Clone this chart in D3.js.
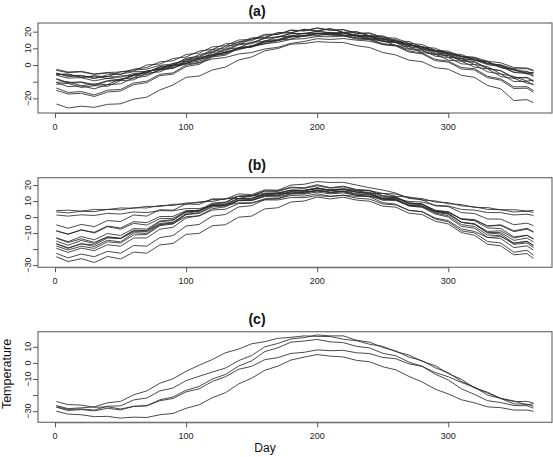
<!DOCTYPE html>
<html>
<head>
<meta charset="utf-8">
<script src="https://cdn.jsdelivr.net/npm/d3@7"></script>
<style>
  html, body { margin: 0; padding: 0; background: #fff; }
  svg { display: block; font-family: "Liberation Sans", Arial, Helvetica, sans-serif; }
</style>
</head>
<body>
<svg id="chart" width="553" height="457"></svg>
<script>
// ---------------- data ----------------
const days = [1,10,20,30,40,50,60,70,80,90,100,110,120,130,140,150,160,170,180,190,200,210,220,230,240,250,260,270,280,290,300,310,320,330,340,350,360,365];
const xTicks = [0, 100, 200, 300];
const panelTitles = ["(a)", "(b)", "(c)"];
const xLabel = "Day";
const yLabel = "Temperature";

// panel (a)
const stJohns = [-3.2,-4.6,-4.1,-5.6,-4.8,-5.5,-4.0,-3.9,-2.0,-1.6,0.6,1.5,3.6,4.5,6.6,7.5,9.6,10.6,13.0,14.1,15.8,15.3,15.9,14.9,14.3,12.4,11.7,9.4,8.4,6.2,5.7,3.6,3.0,0.8,0.1,-2.3,-2.2,-3.5];
const halifax = [-5.1,-6.4,-6.2,-7.8,-6.9,-7.4,-5.1,-4.6,-1.8,-0.7,2.0,3.2,6.1,7.6,10.2,11.4,13.7,14.7,16.8,17.4,18.8,18.7,19.1,17.9,17.4,15.5,14.5,12.2,11.1,8.5,7.4,4.8,3.9,1.1,-0.1,-3.2,-3.8,-5.4];
const sydney = [-5.6,-5.5,-7.3,-6.6,-8.2,-6.5,-6.3,-3.6,-2.8,0.1,1.0,3.7,5.0,7.9,9.1,11.6,12.6,14.8,15.6,17.4,17.6,18.6,17.9,17.8,16.2,15.6,13.4,12.5,9.9,8.9,6.3,5.4,2.8,1.9,-1.2,-2.4,-4.9,-4.4];
const yarmouth = [-2.6,-4.2,-3.8,-5.4,-4.5,-4.2,-2.9,-2.5,-0.2,0.6,3.1,3.9,6.5,7.5,9.8,10.8,12.8,13.6,15.4,15.8,17.1,16.9,17.3,16.3,15.9,14.2,13.5,11.6,10.6,8.5,7.6,5.3,4.6,2.3,1.3,-1.5,-1.8,-3.2];
const charlottetown = [-6.1,-7.9,-7.6,-9.5,-8.0,-8.9,-6.5,-5.8,-3.0,-1.9,1.2,2.3,5.6,6.9,9.9,11.0,13.7,14.6,16.9,17.4,18.9,18.8,19.5,18.0,17.5,15.4,14.5,12.0,10.9,8.1,6.9,4.0,3.1,0.2,-1.0,-4.5,-5.1,-6.8];
const fredericton = [-8.2,-10.5,-10.1,-11.8,-9.4,-8.9,-5.7,-4.6,-1.2,-0.3,3.5,4.6,8.4,9.3,12.6,13.4,16.2,16.9,19.0,18.9,20.2,19.4,19.3,17.5,17.1,14.6,13.8,10.9,9.9,6.6,5.6,2.4,1.6,-2.2,-3.5,-7.6,-7.4,-9.5];
const schefferville = [-23.4,-25.8,-24.7,-25.4,-23.6,-23.3,-20.5,-19.3,-15.0,-12.0,-7.4,-6.6,-3.0,-1.2,3.0,4.8,8.5,9.9,12.5,12.9,14.0,13.6,13.5,11.6,10.5,7.5,6.0,2.9,2.0,-1.6,-2.5,-6.2,-7.4,-12.3,-14.3,-21.3,-20.8,-22.6];
const arvida = [-13.8,-16.5,-15.9,-18.0,-15.1,-14.7,-10.8,-9.7,-5.6,-4.7,-0.1,1.2,5.5,6.6,10.5,11.4,14.7,15.3,17.9,17.8,19.3,18.3,18.1,16.2,15.7,12.8,11.9,8.4,7.2,3.4,2.3,-1.5,-2.2,-6.8,-8.3,-13.1,-13.0,-15.3];
const bagotville = [-15.2,-17.4,-17.0,-18.9,-16.2,-15.6,-11.8,-10.6,-6.4,-5.5,-0.9,0.4,4.8,5.9,9.9,10.8,14.2,14.8,17.4,17.2,18.8,17.8,17.7,15.5,15.2,12.2,11.4,7.8,6.7,2.6,1.7,-2.4,-3.0,-7.6,-9.1,-14.1,-13.9,-16.3];
const quebec = [-10.5,-13.0,-12.5,-14.3,-11.8,-11.3,-7.7,-6.7,-2.8,-2.0,2.2,3.3,7.5,8.4,12.1,12.8,16.0,16.5,19.0,18.7,20.2,19.2,19.2,17.0,16.9,14.0,13.4,9.9,9.1,5.3,4.5,0.7,0.2,-4.1,-5.4,-9.9,-9.8,-12.0];
const sherbrooke = [-11.6,-11.0,-13.5,-12.4,-12.8,-9.4,-8.9,-4.9,-4.1,-0.5,0.8,4.6,5.8,9.5,10.3,13.6,14.1,17.1,17.2,19.1,18.5,19.6,17.5,17.7,15.2,14.9,11.6,11.1,7.4,6.6,2.9,2.3,-1.3,-2.3,-6.9,-8.0,-10.9,-11.5];
const montreal = [-8.5,-10.9,-10.5,-12.3,-9.8,-9.2,-5.9,-4.6,-0.9,-0.1,4.1,5.3,9.3,10.2,14.0,14.6,17.9,18.3,20.8,20.6,22.2,20.9,21.1,18.9,18.8,15.9,15.3,11.9,11.0,7.2,6.5,2.8,2.1,-2.0,-3.4,-7.8,-7.7,-10.0];
const ottawa = [-10.4,-10.0,-12.5,-11.3,-11.8,-8.3,-7.8,-3.6,-2.7,1.0,2.3,6.3,7.6,11.3,12.4,15.7,16.3,19.3,19.4,21.5,20.6,21.9,19.6,19.9,17.3,17.0,13.6,13.0,9.3,8.3,4.6,3.9,0.3,-1.0,-5.4,-6.8,-9.7,-9.1];
const toronto = [-4.8,-7.0,-6.5,-8.2,-5.9,-5.6,-2.5,-1.5,1.9,2.5,6.3,7.2,10.9,11.5,15.0,15.3,18.4,18.5,21.0,20.4,22.2,20.8,21.3,19.1,19.3,16.5,16.1,13.0,12.3,8.9,8.3,5.0,4.5,0.8,-0.4,-4.3,-4.2,-6.2];
const london = [-5.9,-5.4,-7.6,-6.5,-7.1,-4.0,-3.7,0.0,0.6,3.9,4.8,8.4,9.3,12.7,13.3,16.3,16.6,19.4,19.2,21.3,20.3,21.7,19.5,20.0,17.5,17.5,14.4,14.1,10.7,10.1,6.8,6.3,3.1,2.2,-1.7,-2.7,-5.4,-4.5];

// panel (b)
const vancouver = [3.2,2.6,3.6,3.4,4.8,4.5,5.8,5.7,7.2,7.2,8.8,9.0,10.9,11.3,13.0,13.3,15.0,15.2,16.7,16.6,17.6,17.1,17.7,16.8,16.5,14.8,14.4,12.2,11.6,9.4,9.0,7.0,6.4,4.8,4.6,3.2,3.6,3.0];
const victoria = [4.0,4.3,3.7,4.8,4.7,5.7,5.5,6.7,6.6,8.0,8.0,9.5,9.8,11.5,11.6,13.3,13.4,15.0,14.8,16.1,15.7,16.7,15.9,16.5,14.9,14.7,13.0,12.5,10.6,10.1,8.3,7.8,6.0,5.9,4.5,4.6,3.8,4.2];
const prRupert = [1.3,0.6,1.4,1.0,2.3,1.9,3.2,2.8,4.0,3.9,5.3,5.3,7.0,7.2,8.9,9.0,10.7,10.7,12.2,12.1,13.4,12.8,13.7,12.9,13.0,11.5,11.6,9.7,9.4,7.4,6.9,4.8,4.3,2.8,2.8,1.3,1.8,1.0];
const kamloops = [-4.9,-7.0,-4.6,-6.0,-2.2,-2.8,1.3,0.6,4.6,4.3,8.2,7.9,11.4,11.2,14.5,14.0,17.0,16.8,20.0,20.5,22.2,21.6,21.7,20.0,18.3,16.9,15.0,11.6,10.9,7.0,6.5,2.8,2.2,-1.2,-1.3,-4.8,-3.8,-5.4];
const prGeorge = [-8.8,-10.6,-8.2,-9.5,-5.6,-6.8,-2.9,-3.5,0.3,0.4,4.0,4.1,7.3,7.4,10.4,10.3,12.8,12.5,14.7,14.3,15.7,14.5,15.1,13.6,13.2,10.5,10.4,7.2,6.8,3.6,2.9,-1.2,-1.8,-5.6,-5.3,-9.1,-7.6,-9.4];
const calgary = [-8.5,-10.8,-7.9,-10.0,-6.0,-7.6,-3.9,-5.0,-1.0,-0.8,3.6,3.8,7.5,7.4,10.7,10.6,13.3,13.1,15.6,15.4,17.0,15.7,16.4,14.6,14.3,11.4,11.4,8.0,8.0,4.0,3.4,-1.1,-1.6,-5.6,-4.8,-8.6,-7.0,-9.2];
const edmonton = [-13.0,-15.4,-12.2,-14.2,-10.3,-11.5,-7.2,-7.5,-2.5,-1.6,3.1,3.9,7.9,8.3,11.6,11.5,14.1,13.9,15.8,15.4,16.6,15.2,15.9,14.2,13.9,10.9,10.8,7.3,7.0,3.0,1.8,-3.3,-4.2,-9.0,-8.6,-13.1,-11.4,-13.6];
const regina = [-15.0,-17.6,-14.6,-16.5,-12.3,-13.2,-8.2,-8.4,-2.9,-2.2,3.5,4.4,8.7,9.4,13.0,13.1,16.2,16.0,18.3,17.9,19.6,18.0,18.9,16.9,16.5,13.0,12.3,8.5,8.0,3.6,2.2,-3.2,-4.5,-9.6,-9.7,-14.6,-13.1,-15.6];
const winnipeg = [-16.8,-19.6,-16.6,-18.4,-14.5,-15.5,-9.9,-10.2,-4.8,-3.5,2.3,3.7,8.0,9.1,13.0,13.3,16.3,16.5,18.7,18.3,20.2,18.4,19.3,17.2,16.7,13.4,12.7,8.8,8.1,3.8,2.2,-3.3,-4.4,-10.0,-10.6,-16.4,-15.1,-17.8];
const thunderBay = [-13.2,-15.9,-13.6,-15.8,-12.5,-13.5,-8.6,-8.6,-4.0,-3.3,1.6,2.3,6.3,7.0,10.2,10.4,13.3,13.6,16.1,16.3,18.1,16.6,17.5,15.8,15.5,12.4,12.2,8.8,8.2,4.3,3.1,-1.4,-2.3,-6.8,-7.2,-12.4,-11.4,-13.8];
const thePas = [-19.5,-22.1,-19.4,-21.0,-17.3,-18.2,-13.1,-13.0,-7.6,-6.4,-0.6,0.9,5.2,6.4,10.5,11.1,14.5,14.8,16.9,16.7,18.3,16.7,17.4,15.6,14.8,11.5,10.6,6.9,6.1,1.9,0.0,-5.8,-7.0,-12.7,-13.4,-19.1,-18.0,-20.7];
const prAlbert = [-18.1,-20.6,-18.2,-19.6,-15.5,-16.2,-11.2,-10.9,-5.4,-4.3,1.6,2.8,7.0,8.0,11.6,11.8,14.7,14.6,16.8,16.6,18.2,16.6,17.3,15.5,14.8,11.6,10.9,7.2,6.5,2.5,0.8,-4.7,-5.9,-11.2,-11.7,-17.1,-16.2,-19.1];
const uraniumCity = [-22.7,-25.5,-23.1,-24.8,-21.4,-22.6,-17.8,-18.2,-12.8,-11.6,-5.6,-4.6,0.6,1.6,6.3,7.1,11.0,11.5,14.4,14.7,16.7,15.2,15.9,13.6,12.6,9.0,8.0,4.1,3.3,-1.2,-3.0,-8.6,-9.9,-15.3,-16.2,-22.0,-20.8,-23.8];
const churchill = [-24.8,-27.8,-26.0,-28.4,-24.6,-26.2,-21.9,-22.6,-17.4,-16.5,-10.8,-10.2,-5.4,-4.8,-0.1,0.6,5.1,5.8,9.4,10.0,12.5,11.3,12.4,10.6,9.9,6.8,6.2,2.4,1.6,-2.6,-4.3,-9.7,-11.4,-17.0,-18.0,-23.6,-22.8,-25.9];
const whitehorse = [-16.6,-19.2,-16.8,-17.4,-13.1,-13.4,-9.2,-9.1,-4.6,-4.1,0.2,0.7,4.4,4.9,8.4,8.6,11.5,11.5,13.5,13.1,14.5,13.0,13.6,11.8,11.2,8.2,7.6,4.2,3.4,-0.6,-2.2,-7.4,-9.0,-12.8,-12.2,-16.2,-15.3,-17.9];

// panel (c)
const dawson = [-26.5,-28.4,-27.9,-27.3,-24.8,-23.9,-19.8,-17.4,-12.6,-9.9,-5.2,-1.4,2.1,6.3,8.6,11.9,13.2,15.3,15.9,16.8,16.5,16.4,14.7,13.8,11.6,10.3,7.0,4.9,1.0,-1.7,-6.6,-10.2,-15.6,-18.2,-22.1,-23.6,-26.1,-25.4];
const yellowknife = [-27.2,-28.9,-28.6,-29.3,-26.9,-26.7,-23.0,-21.8,-17.4,-15.6,-11.0,-8.3,-5.7,-3.2,1.4,4.6,10.0,12.1,14.9,15.7,17.4,16.8,16.8,14.1,12.9,9.6,7.4,3.6,1.4,-3.0,-6.1,-11.5,-15.1,-20.0,-22.1,-25.5,-25.6,-26.9];
const inuvik = [-27.5,-29.6,-29.0,-29.8,-28.2,-29.2,-27.0,-26.6,-22.9,-21.2,-17.0,-14.6,-10.0,-7.2,-2.0,1.3,7.0,9.4,12.9,13.6,14.6,13.1,12.6,10.3,9.3,6.0,4.4,0.5,-2.1,-7.0,-10.6,-16.1,-19.6,-23.5,-24.6,-26.5,-26.6,-28.1];
const iqaluit = [-24.0,-25.9,-26.2,-27.6,-27.3,-28.6,-27.0,-26.6,-23.5,-22.1,-18.0,-16.1,-11.5,-8.6,-4.0,-2.1,2.0,3.3,5.9,6.6,8.1,7.6,7.8,6.3,5.8,3.4,2.6,-0.6,-2.1,-6.0,-8.6,-12.1,-15.2,-18.7,-22.0,-24.1,-23.9,-25.0];
const resolute = [-30.0,-31.8,-32.2,-33.4,-33.2,-34.3,-33.7,-33.9,-32.2,-31.4,-28.2,-26.0,-21.6,-18.5,-13.1,-9.5,-4.6,-2.0,1.8,3.6,5.2,4.2,3.7,1.6,0.7,-2.4,-4.3,-8.4,-11.8,-16.3,-19.3,-22.9,-24.8,-27.3,-27.8,-29.3,-29.3,-30.1];

const seriesA = [stJohns, halifax, sydney, yarmouth, charlottetown, fredericton, schefferville, arvida, bagotville, quebec, sherbrooke, montreal, ottawa, toronto, london];
const seriesB = [vancouver, victoria, prRupert, kamloops, prGeorge, calgary, edmonton, regina, winnipeg, thunderBay, thePas, prAlbert, uraniumCity, churchill, whitehorse];
const seriesC = [dawson, yellowknife, inuvik, iqaluit, resolute];

const yTicksA = [-20, -10, 0, 10, 20];
const yTickLabelsA = [-20, 0, 10, 20];
const yTicksB = [-30, -20, -10, 0, 10, 20];
const yTickLabelsB = [-30, -10, 0, 10, 20];
const yTicksC = [-30, -20, -10, 0, 10];
const yTickLabelsC = [-30, -10, 0, 10];

// ---------------- layout ----------------
const svg = d3.select("#chart");
const left = 38, right = 552;
const x = d3.scaleLinear().domain([0, 300]).range([55, 448.3]);

const panels = [
  { title: panelTitles[0], series: seriesA, yDomain: [-28.8, 25.2], top: 23, bottom: 113, ticks: yTicksA, labels: yTickLabelsA },
  { title: panelTitles[1], series: seriesB, yDomain: [-31.4, 24.6], top: 177.7, bottom: 267.3, ticks: yTicksB, labels: yTickLabelsB },
  { title: panelTitles[2], series: seriesC, yDomain: [-36.9, 19.4], top: 331.7, bottom: 422.3, ticks: yTicksC, labels: yTickLabelsC }
];

const minus = v => (v < 0 ? "\u2212" + Math.abs(v) : String(v));

panels.forEach(p => {
  const y = d3.scaleLinear().domain(p.yDomain).range([p.bottom, p.top]);
  const g = svg.append("g");

  // curves
  const line = d3.line().x((v, i) => x(days[i])).y(v => y(v));
  g.selectAll("path.curve").data(p.series).join("path")
    .attr("class", "curve")
    .attr("d", line)
    .attr("fill", "none")
    .attr("stroke", "#2b2b2b")
    .attr("stroke-width", 0.85)
    .attr("stroke-linejoin", "round");

  // box
  g.append("rect")
    .attr("x", left).attr("y", p.top)
    .attr("width", right - left).attr("height", p.bottom - p.top)
    .attr("fill", "none").attr("stroke", "#707070").attr("stroke-width", 1.2);

  // x axis
  const xa = g.append("g").attr("transform", `translate(0,${p.bottom})`)
    .call(d3.axisBottom(x).tickValues(xTicks).tickSize(5).tickSizeOuter(0).tickFormat(""));
  xa.select(".domain").attr("stroke", "#707070");
  xa.selectAll(".tick line").attr("stroke", "#555");
  g.selectAll("text.xl").data(xTicks).join("text")
    .attr("class", "xl")
    .attr("x", d => x(d)).attr("y", p.bottom + 17)
    .attr("text-anchor", "middle")
    .attr("font-size", 9).attr("fill", "#222")
    .text(d => d);

  // y axis
  const ya = g.append("g").attr("transform", `translate(${left},0)`)
    .call(d3.axisLeft(y).tickValues(p.ticks).tickSize(5).tickSizeOuter(0).tickFormat(""));
  ya.select(".domain").remove();
  ya.selectAll(".tick line").attr("stroke", "#555");
  g.selectAll("text.yl").data(p.labels).join("text")
    .attr("class", "yl")
    .attr("transform", d => `translate(30.5,${y(d)}) rotate(-90)`)
    .attr("text-anchor", "middle")
    .attr("font-size", 9).attr("fill", "#222")
    .text(d => minus(d));

  // title
  g.append("text")
    .attr("x", 257).attr("y", p.top - 7.5)
    .attr("text-anchor", "middle")
    .attr("font-size", 14).attr("font-weight", "bold").attr("fill", "#111")
    .text(p.title);
});

// axis titles
svg.append("text")
  .attr("x", 265).attr("y", 452)
  .attr("text-anchor", "middle")
  .attr("font-size", 12).attr("fill", "#111")
  .text(xLabel);

svg.append("text")
  .attr("transform", "translate(11,374) rotate(-90)")
  .attr("text-anchor", "middle")
  .attr("font-size", 12.5).attr("fill", "#111")
  .text(yLabel);
</script>
</body>
</html>
